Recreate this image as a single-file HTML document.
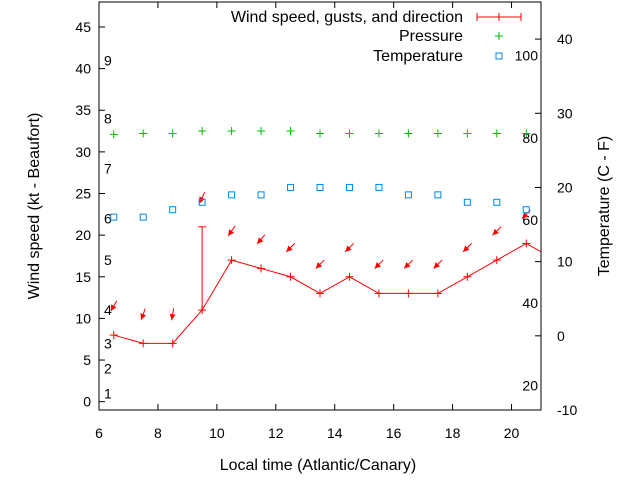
<!DOCTYPE html>
<html><head><meta charset="utf-8"><style>body{margin:0;background:#fff}svg{font-family:"Liberation Sans",sans-serif;font-size:14px}.big{font-size:16px}</style></head>
<body>
<svg id="c" width="640" height="480"></svg>
<script>
const hours=[6.5,7.5,8.5,9.5,10.5,11.5,12.5,13.5,14.5,15.5,16.5,17.5,18.5,19.5,20.5,21.5];
const windSpeed=[8,7,7,11,17,16,15,13,15,13,13,13,15,17,19,17];
const gust=[null,null,null,21,null,null,null,null,null,null,null,null,null,null,null,null];
const dirY=[11.5,10.5,10.5,24.5,20.5,19.5,18.5,16.5,18.5,16.5,16.5,16.5,18.5,20.5,22.5];
const dirAngle=[60,70,80,65,55,50,45,45,45,45,45,45,45,45,45];
const pressure=[32.1,32.2,32.2,32.5,32.5,32.5,32.5,32.2,32.2,32.2,32.2,32.2,32.2,32.2,32.2];
const temperature=[16,16,17,18,19,19,20,20,20,20,19,19,18,18,17];
const xTicks=[6,8,10,12,14,16,18,20];
const yTicks=[0,5,10,15,20,25,30,35,40,45];
const y2Ticks=[-10,0,10,20,30,40];
const beaufort=[[1,1],[2,4],[3,7],[4,11],[5,17],[6,22],[7,28],[8,34],[9,41]];
const fahr=[[20,-6.7],[40,4.4],[60,15.6],[80,26.7],[100,37.8]];
const L=99,R=541,T=2,B=410;
const X=v=>L+(v-6)/(21-6)*(R-L);
const Y=v=>B-(v+1)/(48+1)*(B-T);
const Y2=v=>B-(v+10)/55*(B-T);
const svg=document.getElementById('c');const NS='http://www.w3.org/2000/svg';
function el(t,a,txt,p){const e=document.createElementNS(NS,t);for(const k in a)e.setAttribute(k,a[k]);if(txt!=null)e.textContent=txt;(p||svg).appendChild(e);return e;}
const defs=el('defs',{});const cp=el('clipPath',{id:'cl'},null,defs);el('rect',{x:L,y:T,width:R-L,height:B-T},null,cp);
let e=el('rect',{x:L,y:T,width:R-L,height:B-T,fill:'none',stroke:'#000'});
xTicks.forEach(v=>{const x=X(v);el('line',{x1:x,x2:x,y1:B,y2:B-6,stroke:'#000'});el('line',{x1:x,x2:x,y1:T,y2:T+6,stroke:'#000'});
 e=el('text',{x:x,y:B+28,'text-anchor':'middle'},v);});
yTicks.forEach(v=>{const y=Y(v);el('line',{x1:L,x2:L+6,y1:y,y2:y,stroke:'#000'});
 e=el('text',{x:L-8,y:y+5,'text-anchor':'end'},v);});
y2Ticks.forEach(v=>{const y=Y2(v);el('line',{x1:R,x2:R-6,y1:y,y2:y,stroke:'#000'});
 e=el('text',{x:R+16,y:y+5},v);});
beaufort.forEach(b=>{e=el('text',{x:104,y:Y(b[1])+5},b[0]);});
fahr.forEach(f=>{e=el('text',{x:538,y:Y2(f[1])+5,'text-anchor':'end'},f[0]);});
e=el('text',{x:318,y:470,'text-anchor':'middle','class':'big'},'Local time (Atlantic/Canary)');
e=el('text',{x:0,y:0,'text-anchor':'middle','class':'big',transform:'translate(39,206) rotate(-90)'},'Wind speed (kt - Beaufort)');
e=el('text',{x:0,y:0,'text-anchor':'middle','class':'big',transform:'translate(609,206) rotate(-90)'},'Temperature (C - F)');
const g=el('g',{'clip-path':'url(#cl)'});
e=el('polyline',{points:hours.map((h,i)=>X(h)+','+Y(windSpeed[i])).join(' '),fill:'none',stroke:'#f00'},null,g);
hours.forEach((h,i)=>{const x=X(h),y=Y(windSpeed[i]);el('line',{x1:x-4,x2:x+4,y1:y,y2:y,stroke:'#f00'},null,g);el('line',{x1:x,x2:x,y1:y-4,y2:y+4,stroke:'#f00'},null,g);
 if(gust[i]!=null){const gy=Y(gust[i]);e=el('line',{x1:x,x2:x,y1:y,y2:gy,stroke:'#f00'},null,g);el('line',{x1:x-4,x2:x+4,y1:gy,y2:gy,stroke:'#f00'},null,g);}});
dirY.forEach((d,i)=>{const cx=X(hours[i]),cy=Y(d),a=dirAngle[i]*Math.PI/180,dx=Math.cos(a)*6,dy=Math.sin(a)*6;
 const tx=cx-dx,ty=cy+dy;el('line',{x1:cx+dx,y1:cy-dy,x2:tx,y2:ty,stroke:'#f00'},null,g);
 const ux=dx/6,uy=-dy/6,px=-uy,py=ux;
 e=el('polygon',{points:`${tx},${ty} ${tx+ux*6+px*3},${ty+uy*6+py*3} ${tx+ux*6-px*3},${ty+uy*6-py*3}`,fill:'#f00'},null,g);});
pressure.forEach((p,i)=>{const x=X(hours[i]),y=Y(p);e=el('path',{d:`M${x-4},${y}H${x+4}M${x},${y-4}V${y+4}`,stroke:'#0b0'},null,g);});
temperature.forEach((t,i)=>{const x=X(hours[i]),y=Y2(t);e=el('rect',{x:x-3,y:y-3,width:6,height:6,fill:'none',stroke:'#08e'},null,g);});
const lg=el('g',{'class':'big'});
el('text',{x:463,y:22,'text-anchor':'end'},'Wind speed, gusts, and direction',lg);
el('path',{d:'M477,17H521M477,13V21M521,13V21M499,13V21',stroke:'#f00',fill:'none'},null,lg);
el('text',{x:463,y:41,'text-anchor':'end'},'Pressure',lg);
el('path',{d:'M495,36H503M499,32V40',stroke:'#0b0'},null,lg);
el('text',{x:463,y:61,'text-anchor':'end'},'Temperature',lg);
el('rect',{x:496,y:53,width:6,height:6,fill:'none',stroke:'#08e'},null,lg);
</script>
</body></html>
